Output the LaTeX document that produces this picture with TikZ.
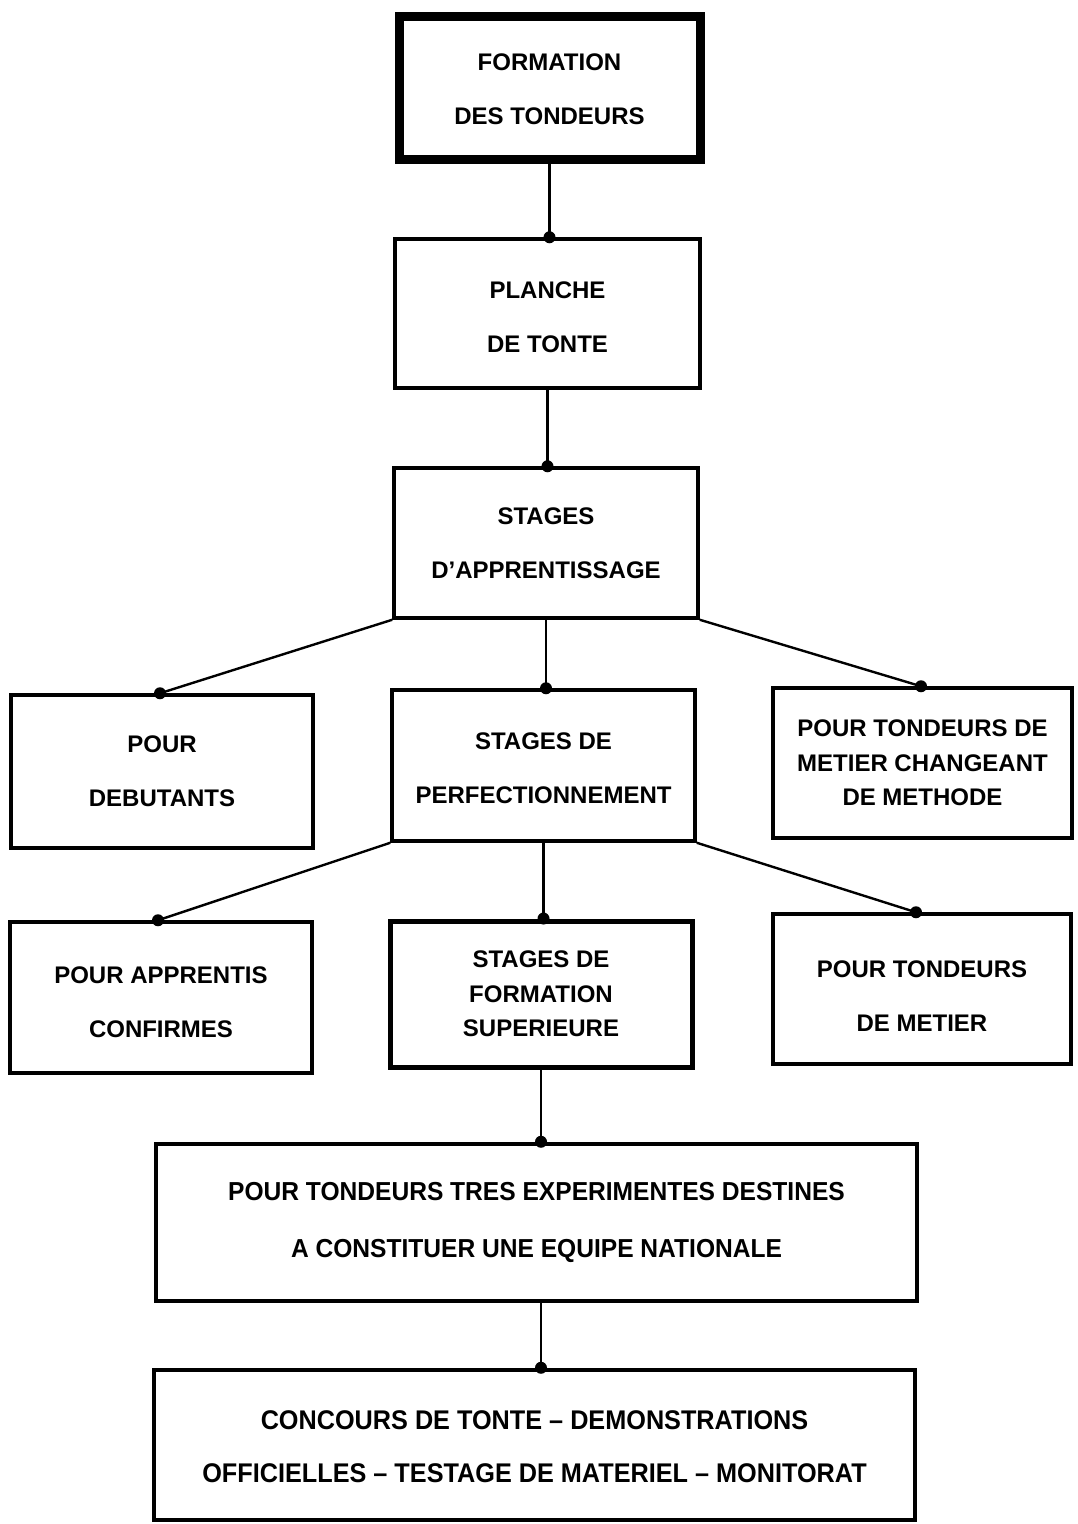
\documentclass[tikz,border=0pt]{standalone}
\usepackage{fontspec}
\setmainfont{Liberation Sans}
\newfontfamily\condfontA[FakeStretch=0.945]{Liberation Sans}
\newfontfamily\condfontB[FakeStretch=0.935]{Liberation Sans}
\begin{document}
\begin{tikzpicture}[x=1pt,y=-1pt,
  box/.style={draw=black,line width=3.5pt,rectangle,inner sep=0pt,align=center,
    font=\fontsize{24}{54}\selectfont\bfseries},
  boxthree/.style={box,font=\fontsize{24}{34.5}\selectfont\bfseries},
  conn/.style={line width=2.4pt,draw=black},
  dotc/.style={fill=black}]
\useasboundingbox (0,0) rectangle (1077,1524);
\fill[white] (0,0) rectangle (1077,1524);

\node[box,line width=9pt,minimum width=301pt,minimum height=143pt] (b1) at (549.5,87.5) {\rule{0pt}{21pt}FORMATION\\DES TONDEURS};
\node[box,minimum width=305pt,minimum height=149pt] (b2) at (547.5,313.5) {\rule{0pt}{24.5pt}PLANCHE\\DE TONTE};
\node[box,minimum width=304pt,minimum height=150pt] (b3) at (546,543) {STAGES\\D’APPRENTISSAGE};
\node[box,minimum width=302pt,minimum height=153pt] (b4) at (162,771.5) {POUR\\DEBUTANTS};
\node[box,minimum width=303pt,minimum height=151pt] (b5) at (543.5,765.5) {\rule{0pt}{22.5pt}STAGES DE\\PERFECTIONNEMENT};
\node[boxthree,minimum width=299pt,minimum height=150pt] (b6) at (922.5,763) {POUR TONDEURS DE\\METIER CHANGEANT\\DE METHODE};
\node[box,minimum width=302pt,minimum height=151pt] (b7) at (161,997.5) {\rule{0pt}{27pt}POUR APPRENTIS\\CONFIRMES};
\node[boxthree,line width=5pt,minimum width=302pt,minimum height=146pt] (b8) at (541,994) {STAGES DE\\FORMATION\\SUPERIEURE};
\node[box,minimum width=298pt,minimum height=150pt] (b9) at (922,989) {\rule{0pt}{30pt}POUR TONDEURS\\DE METIER};
\node[box,line width=4.5pt,minimum width=761pt,minimum height=157pt,
  font=\fontsize{26}{57}\selectfont\condfontA\bfseries] (b10) at (536.5,1222.5)
  {POUR TONDEURS TRES EXPERIMENTES DESTINES\\A CONSTITUER UNE EQUIPE NATIONALE};
\node[box,line width=4.5pt,minimum width=761pt,minimum height=150pt,
  font=\fontsize{27}{53}\selectfont\condfontB\bfseries] (b11) at (534.5,1445)
  {\rule{0pt}{22pt}CONCOURS DE TONTE – DEMONSTRATIONS\\OFFICIELLES – TESTAGE DE MATERIEL – MONITORAT};

% vertical connectors
\coordinate (c12) at (b1.south |- b2.north);
\draw[conn] (b1.south) -- (c12);
\fill[dotc] (c12) circle (6);
\coordinate (c23) at (b2.south |- b3.north);
\draw[conn] (b2.south) -- (c23);
\fill[dotc] (c23) circle (6);
\coordinate (c35) at (b3.south |- b5.north);
\draw[conn] (b3.south) -- (c35);
\fill[dotc] (c35) circle (6);
\coordinate (c58) at (b5.south |- b8.north);
\draw[conn] (b5.south) -- (c58);
\fill[dotc] (c58) circle (6);
\coordinate (c810) at (b8.south |- b10.north);
\draw[conn] (b8.south) -- (c810);
\fill[dotc] (c810) circle (6);
\coordinate (c1011) at (b10.south -| 541,0);
\coordinate (c1011b) at (541,0 |- b11.north);
\draw[conn] (c1011) -- (c1011b);
\fill[dotc] (c1011b) circle (6);

% slanted connectors
\coordinate (c34) at ([xshift=-2pt]b4.north);
\draw[conn] (b3.south west) -- (c34);
\fill[dotc] (c34) circle (6);
\coordinate (c36) at ([xshift=-1.5pt]b6.north);
\draw[conn] (b3.south east) -- (c36);
\fill[dotc] (c36) circle (6);
\coordinate (c57) at ([xshift=-3pt]b7.north);
\draw[conn] (b5.south west) -- (c57);
\fill[dotc] (c57) circle (6);
\coordinate (c59) at ([xshift=-6pt]b9.north);
\draw[conn] (b5.south east) -- (c59);
\fill[dotc] (c59) circle (6);
\end{tikzpicture}
\end{document}
